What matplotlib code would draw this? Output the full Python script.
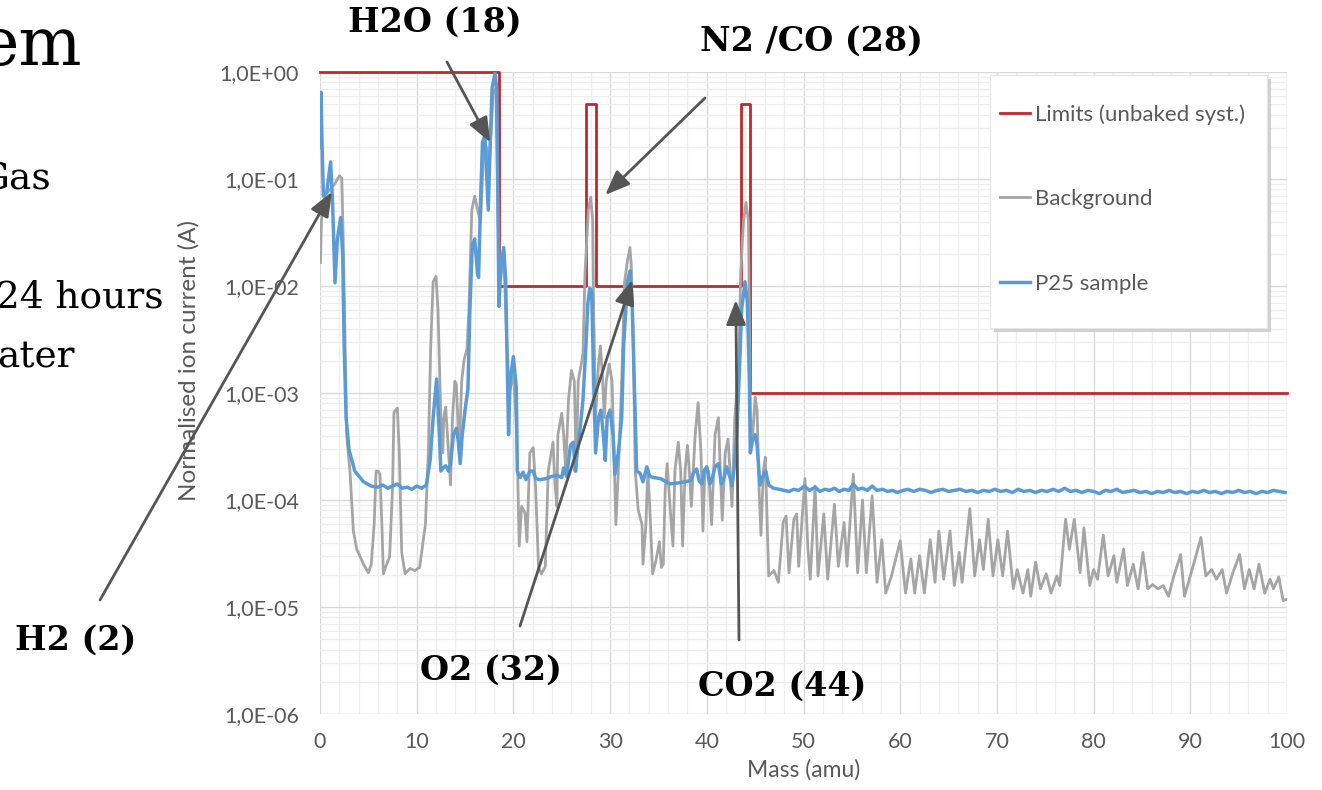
import numpy as np
import matplotlib.pyplot as plt
from matplotlib.ticker import FixedLocator, MultipleLocator, NullFormatter
from matplotlib.patches import Rectangle

# --- data (mass in amu, current as log10 of normalised value) ---
limit_mass = [0, 18.5, 18.5, 27.5, 27.5, 28.5, 28.5, 43.5, 43.5, 44.5, 44.5, 100]
limit_val = [1, 1, 1e-2, 1e-2, 0.5, 0.5, 1e-2, 1e-2, 0.5, 0.5, 1e-3, 1e-3]

bg_mass = [0.05, 0.15, 0.5, 1.0, 1.5, 2.0, 2.25, 2.4, 2.6, 2.75, 3.1, 3.45, 3.8, 4.5, 5.0,
           5.3, 5.6, 5.8, 6.0, 6.2, 6.4, 6.55, 6.9, 7.2, 7.5, 7.65, 8.0, 8.2, 8.45, 8.8,
           9.3, 9.8, 10.3, 10.9, 11.2, 11.45, 11.7, 12.0, 12.2, 12.3, 12.5, 12.7, 12.8, 13.0,
           13.3, 13.5, 13.7, 13.95, 14.1, 14.4, 14.65, 14.9, 15.2, 15.4, 15.7, 16.0, 16.3,
           16.6, 16.9, 17.2, 17.5, 17.9, 18.2, 18.4, 18.6, 19.0, 19.3, 19.6, 20.0, 20.3,
           20.4, 20.6, 20.85, 21.2, 21.4, 21.7, 22.05, 22.3, 22.6, 22.9, 23.3, 23.6, 24.1,
           24.3, 24.5, 24.6, 25.0, 25.2, 25.4, 25.7, 26.0, 26.3, 26.5, 26.7, 27.1, 27.2,
           27.4, 27.75, 28.0, 28.2, 28.3, 28.5, 28.8, 29.0, 29.2, 29.4, 29.6, 29.9, 30.2,
           30.4, 30.6, 30.85, 31.2, 31.5, 31.8, 32.05, 32.2, 32.4, 32.6, 32.9, 33.3, 33.4,
           33.7, 33.9, 34.1, 34.4, 34.75, 35.1, 35.3, 35.5, 35.7, 35.9, 36.2, 36.5, 36.7,
           37.05, 37.3, 37.5, 37.75, 38.0, 38.2, 38.4, 38.8, 39.1, 39.4, 39.6, 39.8, 40.2,
           40.3, 40.5, 40.85, 41.2, 41.4, 41.6, 41.9, 42.2, 42.4, 42.6, 42.9, 43.3, 43.5,
           43.8, 44.05, 44.3, 44.4, 44.5, 44.75, 45.0, 45.2, 45.4, 45.6, 45.85, 46.05,
           46.4, 46.95, 47.4, 47.9, 48.2, 48.5, 49.0, 49.3, 49.5, 50.15, 50.45, 50.7,
           51.2, 51.5, 52.1, 52.5, 53.2, 53.6, 54.2, 54.5, 55.15, 55.6, 56.1, 56.5, 57.1,
           57.6, 58.1, 58.5, 59.1, 60.0, 60.55, 61.1, 61.5, 62.0, 62.5, 63.1, 63.6, 64.0,
           64.5, 65.15, 65.6, 66.1, 66.4, 67.2, 67.7, 68.2, 68.6, 69.1, 69.6, 70.1, 70.6,
           71.1, 71.7, 72.1, 72.7, 73.2, 73.5, 74.0, 74.5, 75.1, 75.6, 76.2, 76.5, 77.1,
           77.5, 78.0, 78.6, 79.0, 79.6, 80.0, 80.4, 81.0, 81.5, 82.1, 82.4, 83.1, 83.5,
           84.1, 84.6, 85.1, 85.6, 86.1, 86.65, 87.2, 87.75, 88.3, 89.0, 89.4, 90.0, 90.5,
           91.1, 91.6, 92.2, 92.7, 93.3, 93.75, 94.4, 95.1, 95.6, 96.1, 96.6, 97.1, 97.7,
           98.25, 98.6, 99.15, 99.6, 99.9]
bg_exp = [-1.78, -1.39, -1.16, -1.10, -1.05, -0.97, -0.99, -1.56, -2.56, -3.39, -3.73, -4.29,
          -4.46, -4.60, -4.68, -4.60, -4.23, -3.73, -3.73, -3.76, -4.23, -4.69, -4.60, -4.53,
          -3.89, -3.18, -3.14, -3.56, -4.49, -4.69, -4.64, -4.66, -4.63, -4.23, -3.56, -2.56,
          -1.96, -1.91, -2.22, -2.56, -3.23, -3.56, -3.23, -3.13, -3.56, -3.86, -3.23, -2.89,
          -2.92, -3.56, -2.89, -2.69, -2.59, -2.22, -1.29, -1.16, -1.29, -1.40, -0.80, -0.70,
          -0.90, -0.20, -0.15, -1.30, -2.00, -1.70, -2.50, -3.00, -2.80, -3.30, -3.56, -4.43,
          -4.06, -4.12, -4.39, -3.56, -3.51, -3.89, -4.63, -4.69, -4.62, -3.73, -3.46, -3.85,
          -4.06, -3.39, -3.19, -3.39, -3.73, -3.06, -2.79, -2.89, -3.73, -2.89, -2.69, -2.62,
          -1.89, -1.29, -1.17, -1.39, -2.22, -3.23, -2.73, -2.56, -2.83, -3.23, -2.89, -2.73,
          -2.89, -3.56, -4.23, -3.73, -2.89, -1.96, -1.76, -1.64, -1.82, -2.56, -3.73, -4.09,
          -4.23, -4.60, -4.23, -3.73, -4.06, -4.69, -4.56, -4.39, -4.63, -4.60, -3.90, -3.66,
          -4.06, -4.43, -3.73, -3.46, -3.73, -4.43, -3.73, -3.49, -3.73, -4.06, -3.39, -3.09,
          -3.56, -4.29, -3.73, -3.73, -3.89, -4.23, -3.39, -3.23, -3.73, -4.19, -3.56, -3.43,
          -3.73, -4.06, -3.23, -2.73, -1.89, -1.39, -1.22, -1.39, -2.22, -3.23, -3.39, -3.04,
          -3.16, -3.89, -4.33, -3.73, -3.60, -4.71, -4.66, -4.77, -4.21, -4.15, -4.68, -4.18,
          -4.13, -4.62, -3.80, -4.45, -4.74, -3.87, -4.71, -4.13, -4.74, -4.04, -4.62, -4.21,
          -4.62, -3.76, -4.68, -4.00, -4.68, -3.96, -4.77, -4.37, -4.87, -4.71, -4.38, -4.87,
          -4.55, -4.87, -4.52, -4.87, -4.37, -4.77, -4.29, -4.74, -4.29, -4.80, -4.49, -4.77,
          -4.08, -4.71, -4.37, -4.65, -4.18, -4.71, -4.37, -4.71, -4.29, -4.83, -4.65, -4.87,
          -4.65, -4.90, -4.58, -4.83, -4.69, -4.87, -4.71, -4.80, -4.18, -4.46, -4.18, -4.68,
          -4.26, -4.80, -4.65, -4.74, -4.33, -4.71, -4.52, -4.77, -4.46, -4.80, -4.60, -4.83,
          -4.49, -4.83, -4.79, -4.83, -4.80, -4.90, -4.71, -4.51, -4.90, -4.71, -4.55, -4.35,
          -4.71, -4.65, -4.74, -4.65, -4.87, -4.68, -4.51, -4.83, -4.65, -4.83, -4.60, -4.87,
          -4.74, -4.83, -4.72, -4.94, -4.93]

p25_mass = [0.0, 0.1, 0.2, 0.35, 0.7, 1.1, 1.3, 1.55, 1.8, 2.14, 2.35, 2.5, 2.7, 3.0, 3.6,
            4.5, 5.3, 6.0, 6.5, 7.0, 7.5, 8.0, 8.5, 9.0, 9.5, 10.0, 10.5, 11.0, 11.4, 11.7,
            12.06, 12.3, 12.5, 12.75, 13.0, 13.3, 13.5, 13.8, 14.1, 14.3, 14.5, 14.7, 15.0,
            15.3, 15.5, 15.75, 16.0, 16.3, 16.4, 16.6, 16.8, 17.05, 17.2, 17.4, 17.6, 17.8,
            18.1, 18.27, 18.4, 18.5, 18.7, 19.0, 19.2, 19.5, 19.65, 20.0, 20.3, 20.4, 20.7,
            21.0, 21.3, 21.7, 22.05, 22.3, 22.75, 23.4, 23.95, 24.5, 25.0, 25.2, 25.5, 25.9,
            26.2, 26.4, 26.6, 26.95, 27.2, 27.5, 27.7, 27.9, 28.1, 28.3, 28.5, 28.8, 29.05,
            29.3, 29.5, 29.7, 30.0, 30.3, 30.5, 30.85, 31.2, 31.4, 31.8, 32.05, 32.3, 32.6,
            32.75, 33.1, 33.4, 33.8, 34.1, 34.5, 35.2, 36.2, 37.05, 37.75, 38.3, 38.6, 38.95,
            39.2, 39.5, 39.7, 40.0, 40.3, 40.5, 40.85, 41.2, 41.5, 41.7, 42.05, 42.4, 42.6,
            42.8, 43.1, 43.4, 43.6, 43.95, 44.2, 44.4, 44.5, 44.75, 45.0, 45.2, 45.5, 45.8,
            46.1, 46.4, 46.9, 47.5, 48.0, 48.5, 49.0, 49.5, 50.1, 50.6, 51.2, 51.7, 52.2,
            52.7, 53.2, 53.7, 54.2, 54.7, 55.15, 55.6, 56.1, 56.6, 57.1, 57.6, 58.2, 58.7,
            59.2, 59.7, 60.3, 60.8, 61.4, 62.0, 62.6, 63.2, 63.8, 64.4, 65.0, 65.6, 66.2,
            66.8, 67.4, 68.0, 68.6, 69.2, 69.8, 70.4, 71.0, 71.6, 72.2, 72.8, 73.4, 74.0,
            74.6, 75.2, 75.8, 76.4, 77.0, 77.6, 78.2, 78.8, 79.4, 80.0, 80.6, 81.2, 81.8,
            82.4, 83.0, 83.6, 84.2, 84.8, 85.4, 86.0, 86.6, 87.2, 87.8, 88.4, 89.0, 89.6,
            90.2, 90.8, 91.4, 92.0, 92.6, 93.2, 93.8, 94.4, 95.0, 95.6, 96.2, 96.8, 97.4,
            98.0, 98.6, 99.2, 99.8]
p25_exp = [-0.70, -0.19, -0.62, -1.16, -1.12, -0.84, -1.22, -1.97, -1.56, -1.36, -1.72, -2.56,
           -3.23, -3.53, -3.73, -3.83, -3.87, -3.88, -3.86, -3.89, -3.87, -3.85, -3.89, -3.88,
           -3.90, -3.87, -3.89, -3.86, -3.62, -3.23, -2.87, -3.30, -3.73, -3.70, -3.68, -3.73,
           -3.66, -3.39, -3.33, -3.45, -3.66, -3.40, -3.16, -2.96, -2.22, -1.62, -1.56, -1.89,
           -1.92, -1.22, -0.66, -0.59, -0.89, -1.29, -0.66, -0.15, -0.01, -0.15, -1.22, -2.19,
           -1.82, -1.64, -1.95, -3.39, -2.89, -2.66, -2.95, -3.73, -3.79, -3.74, -3.81, -3.73,
           -3.73, -3.80, -3.81, -3.80, -3.78, -3.77, -3.79, -3.70, -3.78, -3.49, -3.46, -3.73,
           -3.56, -3.29, -3.06, -2.56, -2.16, -2.02, -2.06, -2.89, -3.56, -3.23, -3.16, -3.39,
           -3.63, -3.23, -3.16, -3.39, -3.76, -3.56, -3.23, -2.56, -1.96, -1.86, -2.22, -3.23,
           -3.73, -3.75, -3.83, -3.69, -3.78, -3.79, -3.80, -3.85, -3.84, -3.83, -3.82, -3.75,
           -3.71, -3.82, -3.85, -3.73, -3.69, -3.85, -3.82, -3.69, -3.66, -3.85, -3.82, -3.69,
           -3.79, -3.87, -3.73, -3.39, -2.73, -2.22, -1.96, -2.15, -2.89, -3.56, -3.43, -3.39,
           -3.49, -3.86, -3.78, -3.73, -3.86, -3.89, -3.90, -3.91, -3.92, -3.90, -3.91, -3.87,
           -3.91, -3.88, -3.92, -3.90, -3.91, -3.89, -3.92, -3.90, -3.91, -3.85, -3.90, -3.89,
           -3.91, -3.87, -3.91, -3.90, -3.92, -3.91, -3.93, -3.91, -3.90, -3.92, -3.90, -3.91,
           -3.93, -3.91, -3.90, -3.92, -3.91, -3.90, -3.92, -3.91, -3.93, -3.91, -3.92, -3.90,
           -3.92, -3.91, -3.93, -3.90, -3.92, -3.91, -3.93, -3.91, -3.92, -3.90, -3.92, -3.89,
           -3.92, -3.91, -3.93, -3.91, -3.92, -3.94, -3.91, -3.92, -3.90, -3.93, -3.92, -3.91,
           -3.93, -3.92, -3.94, -3.92, -3.93, -3.91, -3.93, -3.92, -3.94, -3.92, -3.93, -3.91,
           -3.93, -3.92, -3.94, -3.92, -3.93, -3.91, -3.93, -3.92, -3.94, -3.92, -3.93, -3.91,
           -3.92, -3.93]

series_names = ['Limits (unbaked syst.)', 'Background', 'P25 sample']
y_ticks = [1e-6, 1e-5, 1e-4, 1e-3, 1e-2, 1e-1, 1e0]
y_tick_labels = ['1,0E-06', '1,0E-05', '1,0E-04', '1,0E-03', '1,0E-02', '1,0E-01', '1,0E+00']
x_ticks = list(range(0, 101, 10))

# annotation labels and the (mass, value) each arrow points at
peak_labels = ['H2 (2)', 'H2O (18)', 'N2 /CO (28)', 'O2 (32)', 'CO2 (44)']
peak_targets = [(1.24, 0.076), (17.6, 0.22), (29.5, 0.071), (32.3, 0.0114), (43.0, 0.0074)]

W, H = 1322, 790


def fp(px, py):
    # figure pixel (from top left) -> figure fraction
    return px / W, 1 - py / H


fig = plt.figure(figsize=(W / 100, H / 100), dpi=100)
ax = fig.add_axes([320 / W, 76 / H, 967 / W, 642 / H])

grey_txt = '#595959'
cfont = 'Lato'

ax.plot(limit_mass, limit_val, color='#C0282D', lw=2.0, clip_on=False, zorder=2,
        label=series_names[0])
ax.plot(bg_mass, 10.0 ** np.array(bg_exp), color='#A5A5A5', lw=2.0, zorder=3,
        label=series_names[1], solid_joinstyle='round')
ax.plot(p25_mass, 10.0 ** np.array(p25_exp), color='#5B9BD5', lw=2.5, zorder=3.5,
        label=series_names[2], solid_joinstyle='round')

ax.set_yscale('log')
ax.set_xlim(0, 100)
ax.set_ylim(1e-6, 1)
ax.yaxis.set_major_locator(FixedLocator(y_ticks))
ax.set_yticklabels(y_tick_labels)
ax.yaxis.set_minor_locator(FixedLocator([m * 10.0 ** e for e in range(-6, 0) for m in range(2, 10)]))
ax.yaxis.set_minor_formatter(NullFormatter())
ax.set_xticks(x_ticks)
ax.xaxis.set_minor_locator(MultipleLocator(2))
ax.grid(which='major', color='#d9d9d9', lw=1.0, zorder=0)
ax.grid(which='minor', color='#eeeeee', lw=0.9, zorder=0)
ax.set_axisbelow(True)
for s in ax.spines.values():
    s.set_visible(False)
ax.tick_params(which='both', length=0)
ax.tick_params(axis='y', pad=15, labelsize=15.5, labelcolor=grey_txt)
ax.tick_params(axis='x', pad=13, labelsize=15.5, labelcolor=grey_txt)
for lab in ax.get_xticklabels() + ax.get_yticklabels():
    lab.set_family(cfont)

ax.set_xlabel('Mass (amu)', fontsize=16.5, color=grey_txt, family=cfont, labelpad=5)
ax.set_ylabel('Normalised ion current (A)', fontsize=17.5, color=grey_txt, family=cfont)
ax.yaxis.set_label_coords(-0.125, 0.55)

# legend box with a soft shadow
ax.add_patch(Rectangle((0.697, 0.595), 0.2865, 0.394, transform=ax.transAxes,
                       facecolor='#d0d0d0', edgecolor='none', zorder=4.4, clip_on=False))
ax.add_patch(Rectangle((0.693, 0.601), 0.2865, 0.394, transform=ax.transAxes,
                       facecolor='white', edgecolor='#e6e6e6', lw=0.8, zorder=4.5, clip_on=False))
leg = ax.legend(loc='upper left', bbox_to_anchor=(0.703, 0.950), frameon=False,
                borderaxespad=0, borderpad=0, handlelength=1.35, handletextpad=0.25,
                labelspacing=2.9, prop={'family': cfont, 'size': 16})
leg.set_zorder(5)
for t in leg.get_texts():
    t.set_color(grey_txt)

# peak annotations
label_pos = [(76, 640), (435, 22), (811, 41), (491, 670), (782, 686)]
tail_pos = [(100, 600), (447, 62), (705, 98), (520, 626), (739, 640)]
for name, tgt, lp, tp in zip(peak_labels, peak_targets, label_pos, tail_pos):
    fig.text(*fp(*lp), name, ha='center', va='center', fontsize=24,
             fontweight='bold', family='DejaVu Serif', color='black')
    ax.annotate('', xy=tgt, xycoords='data', xytext=fp(*tp), textcoords='figure fraction',
                arrowprops=dict(arrowstyle='-|>,head_length=0.75,head_width=0.3',
                                mutation_scale=20, color='#555555', lw=2,
                                shrinkA=0, shrinkB=0),
                annotation_clip=False, zorder=6)

# bits of the slide text to the left of the chart (cut by the slide edge)
fig.text(*fp(82, 65), 'em', ha='right', va='baseline', fontsize=48, family='DejaVu Serif')
fig.text(*fp(52, 190), 'Gas', ha='right', va='baseline', fontsize=27, family='DejaVu Serif')
fig.text(*fp(163, 307), '24 hours', ha='right', va='baseline', fontsize=27, family='DejaVu Serif')
fig.text(*fp(75, 367), 'ater', ha='right', va='baseline', fontsize=27, family='DejaVu Serif')

fig.savefig('out.png', dpi=100)
